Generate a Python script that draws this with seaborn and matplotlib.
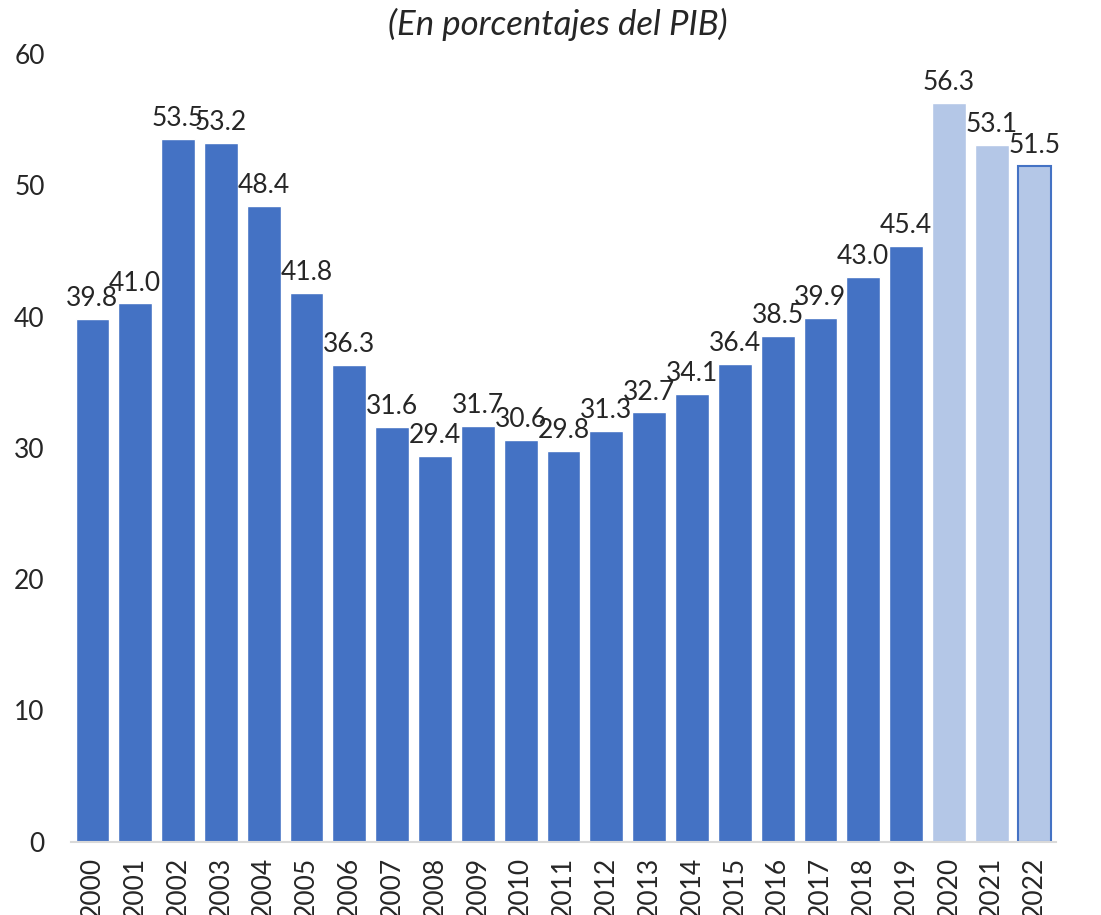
import numpy as np
import pandas as pd
import matplotlib
matplotlib.use('Agg')
import matplotlib.pyplot as plt
import seaborn as sns

# data
years = ['2000', '2001', '2002', '2003', '2004', '2005', '2006', '2007',
         '2008', '2009', '2010', '2011', '2012', '2013', '2014', '2015',
         '2016', '2017', '2018', '2019', '2020', '2021', '2022']
values = [39.8, 41.0, 53.5, 53.2, 48.4, 41.8, 36.3, 31.6, 29.4, 31.7, 30.6,
          29.8, 31.3, 32.7, 34.1, 36.4, 38.5, 39.9, 43.0, 45.4, 56.3, 53.1,
          51.5]
projected = ['2020', '2021', '2022']
title = '(En porcentajes del PIB)'

df = pd.DataFrame({'year': years, 'value': values})
df['kind'] = np.where(df['year'].isin(projected), 'proj', 'obs')

sns.set_style('white')
plt.rcParams['font.family'] = ['Lato', 'DejaVu Sans']

fig = plt.figure(figsize=(11.01, 9.15), dpi=100)
ax = fig.add_axes([0.0645, 0.08, 0.8946, 0.861])

sns.barplot(data=df, x='year', y='value', hue='kind',
            palette={'obs': '#4472C4', 'proj': '#B4C7E7'},
            dodge=False, width=0.79, saturation=1, legend=False, ax=ax)

# the last bar carries a blue outline
for p in ax.patches:
    xc = p.get_x() + p.get_width() / 2
    if abs(xc - (len(years) - 1)) < 0.01 and p.get_height() > 0:
        p.set_edgecolor('#4472C4')
        p.set_linewidth(1.5)

# value labels
for i, v in enumerate(values):
    ax.text(i, v + 0.6, f'{v:.1f}', ha='center', va='bottom', fontsize=19)

ax.set_ylim(0, 60)
ax.set_yticks(range(0, 61, 10))
ax.set_xlim(-0.5, len(years) - 0.5)
ax.set_xlabel('')
ax.set_ylabel('')
ax.tick_params(axis='y', labelsize=19, length=0, pad=19)
ax.tick_params(axis='x', labelsize=19, length=0, rotation=90, pad=11)
for lab in ax.get_xticklabels():
    lab.set_va('top')

for s in ['top', 'right', 'left']:
    ax.spines[s].set_visible(False)
ax.spines['bottom'].set_color('#D9D9D9')
ax.spines['bottom'].set_linewidth(1.5)

fig.text(0.507, 0.973, title, ha='center', va='center', fontsize=25,
         style='italic')

plt.savefig('out.png', dpi=100)
